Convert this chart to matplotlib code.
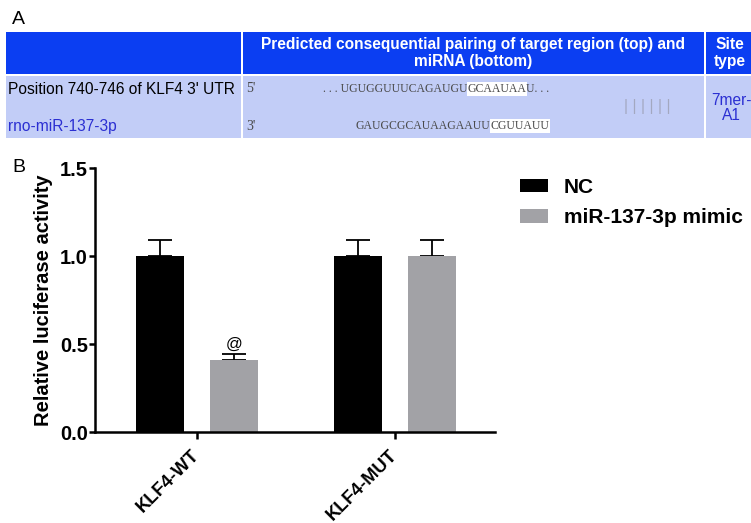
import numpy as np
import matplotlib
matplotlib.use("Agg")
import matplotlib.pyplot as plt
from matplotlib.patches import Rectangle

plt.rcParams['font.family'] = ['Liberation Sans', 'DejaVu Sans']

# Panel A: target site table
header = ["", "Predicted consequential pairing of target region (top) and\nmiRNA (bottom)", "Site\ntype"]
row_names = ["Position 740-746 of KLF4 3' UTR", "rno-miR-137-3p"]
utr_seq = [". . . UGUGGUUUCAGAUGU", "GCAAUAA", "U. . ."]
mir_seq = ["GAUGCGCAUAAGAAUU", "CGUUAUU", ""]
site_type = "7mer-\nA1"

# Panel B: luciferase reporter assay
groups = ["KLF4-WT", "KLF4-MUT"]
series = ["NC", "miR-137-3p mimic"]
means = {"NC": [1.0, 1.0], "miR-137-3p mimic": [0.41, 1.0]}
sems = {"NC": [0.09, 0.09], "miR-137-3p mimic": [0.033, 0.09]}
bar_colors = {"NC": "black", "miR-137-3p mimic": "#a2a2a6"}

W, H = 751, 523
fig = plt.figure(figsize=(W / 100, H / 100), dpi=100)

# overlay axes in pixel units for the table and panel letters
ax0 = fig.add_axes([0, 0, 1, 1])
ax0.set_xlim(0, W)
ax0.set_ylim(H, 0)
ax0.axis('off')

head_blue = "#0b3ef2"
body_blue = "#c2cdf7"
text_blue = "#2b2fd2"
col_x = [5, 242, 705, 790]
for i in range(3):
    x0, x1 = col_x[i] + 1, col_x[i + 1] - 1
    ax0.add_patch(Rectangle((x0, 32), x1 - x0, 42, fc=head_blue, ec="none"))
    ax0.add_patch(Rectangle((x0, 76), x1 - x0, 62, fc=body_blue, ec="none"))

ax0.text(473, 53, header[1], color="white", fontsize=11.2, fontweight="bold",
         ha="center", va="center", linespacing=1.1)
ax0.text(730, 53, header[2], color="white", fontsize=11.2, fontweight="bold",
         ha="center", va="center", linespacing=1.1)

ax0.text(8, 90, row_names[0], color="black", fontsize=11.2, va="center")
ax0.text(8, 126, row_names[1], color=text_blue, fontsize=11.2, va="center")
ax0.text(731, 108, site_type, color=text_blue, fontsize=11.2, ha="center",
         va="center", linespacing=1.05)

serif = ["Liberation Serif", "DejaVu Serif"]
seq_kw = dict(family=serif, fontsize=8.5, color="#4a4a4a")
ax0.text(246, 89, "5'", va="center", family=serif, fontsize=10, color="#4a4a4a")
ax0.text(246, 126, "3'", va="center", family=serif, fontsize=10, color="#4a4a4a")


def seq_line(x, y, parts):
    t = ax0.text(x, y, parts[0], va="center", **seq_kw)
    hl = ax0.annotate(parts[1], xy=(1, 0), xycoords=t, va="bottom", ha="left",
                      bbox=dict(fc="white", ec="none", pad=0.6), **seq_kw)
    if parts[2]:
        ax0.annotate(parts[2], xy=(1, 0), xycoords=hl, va="bottom", ha="left", **seq_kw)


seq_line(323, 89, utr_seq)
seq_line(356, 126, mir_seq)
ax0.text(647, 107, "| | | | | |", fontsize=11.5, color="#a3a8c0", ha="center", va="center",
         family=["Liberation Sans", "DejaVu Sans"])

ax0.text(12, 20, "A", fontsize=14, va="center")
ax0.text(12, 167, "B", fontsize=14, va="center")

# bar chart
ax = fig.add_axes([95 / W, 1 - 432 / H, 400 / W, 264 / H])
x = np.arange(len(groups))
offsets = {"NC": -0.187, "miR-137-3p mimic": 0.187}
handles = []
for s in series:
    b = ax.bar(x + offsets[s], means[s], width=0.242, color=bar_colors[s], label=s, zorder=2)
    handles.append(b)
    ax.errorbar(x + offsets[s], means[s], yerr=[np.zeros(len(groups)), sems[s]],
                fmt="none", ecolor="black", elinewidth=1.3, capsize=8.5, capthick=1.3, zorder=1)

wt_top = means["miR-137-3p mimic"][0] + sems["miR-137-3p mimic"][0]
ax.text(x[0] + offsets["miR-137-3p mimic"], wt_top + 0.012, "@", ha="center", va="bottom",
        fontsize=12)

ax.set_xlim(-0.515, 1.505)
ax.set_ylim(0, 1.5)
ax.set_yticks([0, 0.5, 1.0, 1.5])
ax.set_yticklabels(["0.0", "0.5", "1.0", "1.5"], fontsize=14.5, fontweight="bold")
ax.set_xticks(x)
ax.set_xticklabels(groups, rotation=45, ha="right", va="center", rotation_mode="anchor",
                   fontsize=13.2, fontweight="bold")
ax.set_ylabel("Relative luciferase activity", fontsize=14.5, fontweight="bold", labelpad=5)
for side in ["top", "right"]:
    ax.spines[side].set_visible(False)
for side in ["left", "bottom"]:
    ax.spines[side].set_linewidth(1.8)
ax.tick_params(axis="y", width=1.8, length=4, pad=1)
ax.tick_params(axis="x", width=1.8, length=5, pad=10)

ax.legend(handles=handles, labels=series, loc="upper left", frameon=False,
          bbox_to_anchor=(520 / W, 1 - 178 / H), bbox_transform=fig.transFigure,
          prop=dict(size=15, weight="bold"), handlelength=1.35, handleheight=0.62,
          handletextpad=0.75, labelspacing=0.55, borderpad=0, borderaxespad=0)

fig.savefig("out.png", dpi=100)
